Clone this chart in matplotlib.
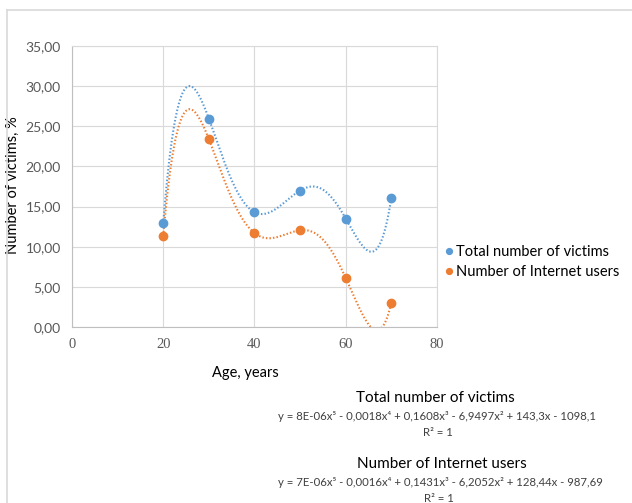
import numpy as np
import matplotlib.pyplot as plt
from matplotlib.lines import Line2D
from matplotlib.ticker import FuncFormatter

# age groups and shares of victims, %
ages = [20, 30, 40, 50, 60, 70]
total_victims = [12.9, 25.95, 14.3, 17.0, 13.5, 16.1]
internet_users = [11.35, 23.4, 11.7, 12.05, 6.1, 3.05]

series_names = ['Total number of victims', 'Number of Internet users']
equations = ['y = 8E-06x⁵ - 0,0018x⁴ + 0,1608x³ - 6,9497x² + 143,3x - 1098,1',
             'y = 7E-06x⁵ - 0,0016x⁴ + 0,1431x³ - 6,2052x² + 128,44x - 987,69']

blue = '#5b9bd5'
orange = '#ed7d31'
grid_col = '#d9d9d9'
sans = ['Lato', 'DejaVu Sans']

fig = plt.figure(figsize=(6.32, 5.03), dpi=100)
ax = fig.add_axes([72 / 632, 1 - 327 / 503, 365 / 632, 281 / 503])

# 5th degree polynomial trendlines over the data range
xs = np.linspace(min(ages), max(ages), 400)
for vals, col in [(total_victims, blue), (internet_users, orange)]:
    coef = np.polyfit(ages, vals, 5)
    ax.plot(xs, np.polyval(coef, xs), color=col, lw=1.5,
            linestyle=(0, (0.7, 1.0)), dash_capstyle='butt', zorder=2)

ax.plot(ages, total_victims, 'o', color=blue, ms=6, zorder=3, label=series_names[0])
ax.plot(ages, internet_users, 'o', color=orange, ms=6, zorder=3, label=series_names[1])

ax.set_xlim(0, 80)
ax.set_ylim(0, 35)
ax.set_xticks(range(0, 81, 20))
ax.set_yticks(range(0, 36, 5))
ax.yaxis.set_major_formatter(FuncFormatter(lambda v, p: f'{v:.2f}'.replace('.', ',')))
ax.grid(True, color=grid_col, lw=0.8)
ax.set_axisbelow(True)
ax.tick_params(length=0, pad=8, colors='#595959')
for lab in ax.get_yticklabels():
    lab.set_family(sans)
    lab.set_fontsize(10)
for lab in ax.get_xticklabels():
    lab.set_family('Liberation Serif')
    lab.set_fontsize(10.5)
for side in ['top', 'right']:
    ax.spines[side].set_color(grid_col)
for side in ['left', 'bottom']:
    ax.spines[side].set_color('#bfbfbf')

ax.set_xlabel('Age, years', family=sans, fontsize=10.5)
ax.xaxis.set_label_coords((245 - 72) / 365, -(366 - 327) / 281)
ax.set_ylabel('Number of victims, %', family=sans, fontsize=10.5)
ax.yaxis.set_label_coords(-(72 - 20) / 365, (327 - 185) / 281)

ax.legend(loc='center left', bbox_to_anchor=(433 / 632, 1 - 262 / 503),
          bbox_transform=fig.transFigure, frameon=False, markerscale=0.7,
          handlelength=0.4, handletextpad=0.3, labelspacing=0.45,
          prop={'family': sans, 'size': 10.5})

# trendline captions under the plot
fig.text(435 / 632, 1 - 398 / 503, series_names[0], ha='center', va='center',
         family=sans, fontsize=11)
fig.text(437 / 632, 1 - 417 / 503, equations[0], ha='center', va='center',
         family=sans, fontsize=8.2, color='#404040')
fig.text(438 / 632, 1 - 433 / 503, 'R² = 1', ha='center', va='center',
         family=sans, fontsize=8.2, color='#404040')
fig.text(442 / 632, 1 - 464 / 503, series_names[1], ha='center', va='center',
         family=sans, fontsize=11)
fig.text(440 / 632, 1 - 483 / 503, equations[1], ha='center', va='center',
         family=sans, fontsize=8.2, color='#404040')
fig.text(439 / 632, 1 - 499 / 503, 'R² = 1', ha='center', va='center',
         family=sans, fontsize=8.2, color='#404040')

# chart area frame
fig.add_artist(Line2D([7 / 632, 1], [1 - 10 / 503] * 2, color=grid_col, lw=1.2))
fig.add_artist(Line2D([7 / 632] * 2, [0, 1 - 10 / 503], color=grid_col, lw=1.2))

fig.savefig('out.png', dpi=100)
